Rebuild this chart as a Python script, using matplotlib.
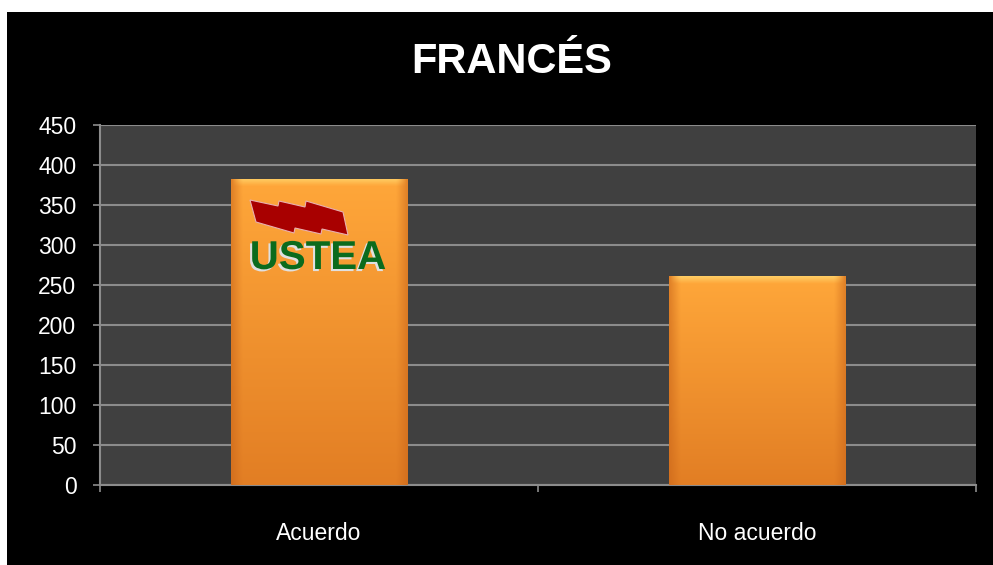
import numpy as np
import matplotlib
matplotlib.use('Agg')
import matplotlib.pyplot as plt
from matplotlib.patches import Rectangle, Polygon
from matplotlib.colors import to_rgb
import matplotlib.patheffects as pe

# datos
categorias = ['Acuerdo', 'No acuerdo']
valores = [383, 261]
titulo = 'FRANCÉS'
yticks = [0, 50, 100, 150, 200, 250, 300, 350, 400, 450]

plt.rcParams['font.family'] = ['Liberation Sans', 'DejaVu Sans']

W, H = 993, 565
fig = plt.figure(figsize=(W / 100, H / 100), dpi=100, facecolor='white')

# fondo negro del grafico
fig.patches.append(Rectangle((7 / W, 0), 1 - 7 / W, 1 - 12 / H,
                             transform=fig.transFigure, facecolor='black',
                             edgecolor='none', zorder=-10))

ax = fig.add_axes([100 / W, (H - 485) / H, 876 / W, 360 / H])
ax.set_facecolor('#404040')

x = np.arange(len(categorias))
barras = ax.bar(x, valores, width=0.404, color='#F5962F', zorder=2)

# degradado naranja en cada barra
top_c = np.array(to_rgb('#FFA73A'))
bot_c = np.array(to_rgb('#E27E24'))
edge_c = np.array(to_rgb('#C9651A'))
hi_c = np.array(to_rgb('#FFD66E'))
for b in barras:
    x0, w, h = b.get_x(), b.get_width(), b.get_height()
    ny, nx = 200, 80
    t = np.linspace(0, 1, ny)[:, None, None]           # 0 arriba, 1 abajo
    img = top_c * (1 - t) + bot_c * t
    img = np.repeat(img, nx, axis=1)
    u = np.linspace(0, 1, nx)
    d = np.minimum(u, 1 - u)
    side = np.clip(1 - d / 0.06, 0, 1)[None, :, None]
    img = img * (1 - 0.55 * side) + edge_c * 0.55 * side
    band = 9.0 / h
    tt = np.linspace(0, 1, ny)
    hi = np.clip(1 - tt / band, 0, 1)[:, None, None] * (1 - side)
    img = img * (1 - 0.8 * hi) + hi_c * 0.8 * hi
    im = ax.imshow(img, extent=[x0, x0 + w, 0, h], aspect='auto',
                   interpolation='bilinear', zorder=3)
    im.set_clip_path(b)

ax.set_xlim(-0.5, 1.5)
ax.set_ylim(0, 450)
ax.set_yticks(yticks)
ax.yaxis.grid(True, color='#8C8C8C', linewidth=1.5, zorder=1)
ax.set_axisbelow(True)

ax.set_xticks([-0.5, 0.5, 1.5])
ax.set_xticklabels([])
ax.set_xticks(x, minor=True)
ax.set_xticklabels(categorias, minor=True)
ax.tick_params(axis='x', which='minor', length=0, pad=27, labelsize=16.5,
               labelcolor='white')
ax.tick_params(axis='x', which='major', length=5, color='#8C8C8C', width=1.2)
ax.tick_params(axis='y', length=5, color='#8C8C8C', width=1.2, pad=12,
               labelsize=16.5, labelcolor='white')

for s in ['top', 'right']:
    ax.spines[s].set_visible(False)
for s in ['left', 'bottom']:
    ax.spines[s].set_color('#8C8C8C')
    ax.spines[s].set_linewidth(1.5)

fig.text(512 / W, 1 - 62 / H, titulo, color='white', fontsize=30,
         fontweight='bold', ha='center', va='center')

# logotipo USTEA sobre la primera barra
lx0, lx1, ly0, ly1 = 245, 392, 195, 275
logo = fig.add_axes([lx0 / W, (H - ly1) / H, (lx1 - lx0) / W, (ly1 - ly0) / H])
logo.set_xlim(lx0, lx1)
logo.set_ylim(ly1, ly0)
logo.axis('off')
logo.patch.set_alpha(0)
bandera = [(250, 200), (278, 206), (279, 201), (305, 207), (306, 201),
           (343, 212), (348, 235), (322, 229), (321, 234), (295, 228),
           (294, 233), (256, 222)]
logo.add_patch(Polygon(bandera, closed=True, facecolor='#A80000',
                       edgecolor='#E8B0B0', linewidth=0.8))
logo.text(318, 258, 'USTEA', color='#0B6B1D', fontsize=29, fontweight='bold',
          ha='center', va='center',
          path_effects=[pe.withSimplePatchShadow(offset=(-1.5, -1.5),
                                                 shadow_rgbFace='#E0E0E0',
                                                 alpha=1.0)])

fig.savefig('out.png', dpi=100, facecolor='white')
